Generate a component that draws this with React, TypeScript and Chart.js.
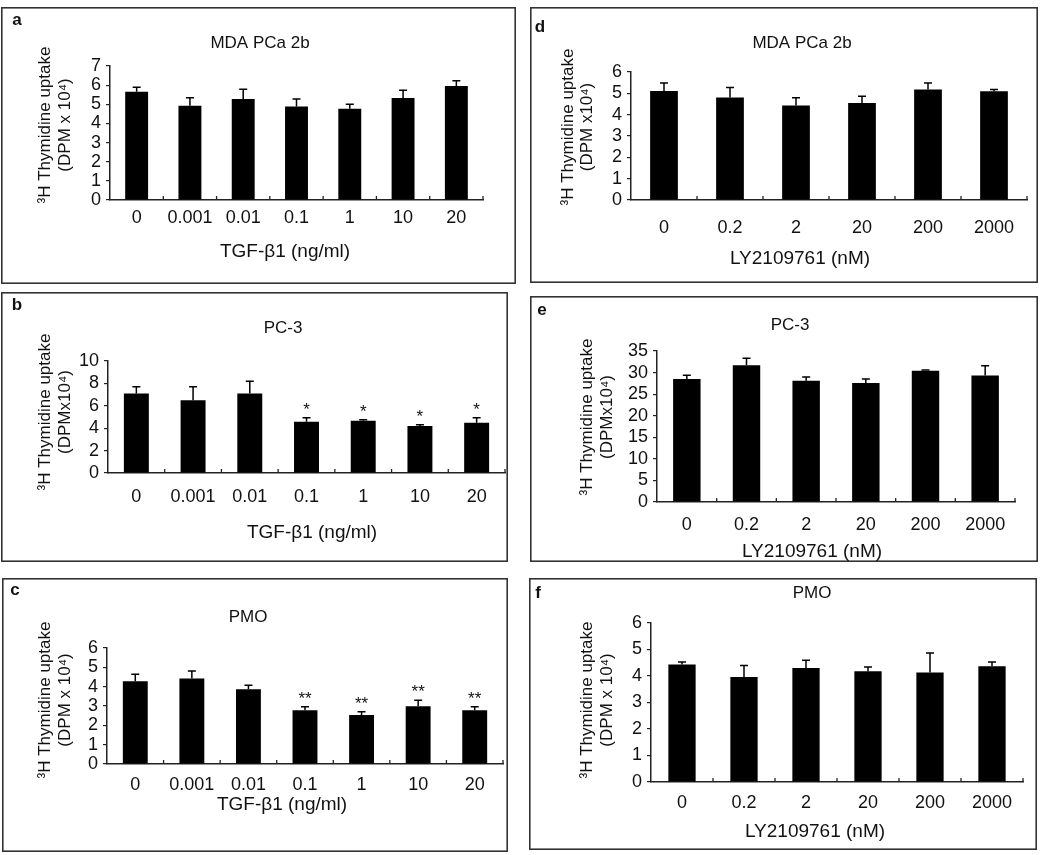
import React, { useEffect, useRef } from "react";
import { Chart, registerables } from "chart.js";

Chart.register(...registerables);

const FONT = '"Liberation Sans", Arial, Helvetica, sans-serif';

// ---------- data ----------
const tgfDoses = ["0", "0.001", "0.01", "0.1", "1", "10", "20"];
const lyDoses = ["0", "0.2", "2", "20", "200", "2000"];

const mdaTgfMean = [5.66, 4.93, 5.28, 4.88, 4.77, 5.33, 5.96];
const mdaTgfErr = [0.23, 0.41, 0.5, 0.4, 0.23, 0.4, 0.27];

const pc3TgfMean = [7.1, 6.5, 7.1, 4.57, 4.66, 4.2, 4.48];
const pc3TgfErr = [0.6, 1.2, 1.1, 0.36, 0.09, 0.1, 0.45];
const pc3TgfSig = ["", "", "", "*", "*", "*", "*"];

const pmoTgfMean = [4.28, 4.42, 3.87, 2.78, 2.53, 2.99, 2.78];
const pmoTgfErr = [0.36, 0.39, 0.2, 0.18, 0.17, 0.31, 0.18];
const pmoTgfSig = ["", "", "", "**", "**", "**", "**"];

const mdaLyMean = [5.11, 4.8, 4.43, 4.55, 5.18, 5.1];
const mdaLyErr = [0.38, 0.47, 0.36, 0.31, 0.31, 0.08];

const pc3LyMean = [28.5, 31.7, 28.1, 27.6, 30.4, 29.3];
const pc3LyErr = [0.9, 1.6, 0.9, 0.9, 0.2, 2.3];

const pmoLyMean = [4.43, 3.96, 4.3, 4.18, 4.13, 4.37];
const pmoLyErr = [0.1, 0.44, 0.29, 0.16, 0.74, 0.16];

const yTitleLine1 = "³H Thymidine uptake";
const tgfTitle = "TGF-β1 (ng/ml)";
const lyTitle = "LY2109761 (nM)";

// ---------- layout ----------
type Panel = {
  letter: string;
  title: string;
  labels: string[];
  mean: number[];
  err: number[];
  sig: string[] | null;
  yMax: number;
  yStep: number;
  yTitle2: string;
  xTitle: string;
  bar: number;
  box: { x: number; y: number; w: number; h: number };
  area: { l: number; t: number; r: number; b: number };
  titlePos: [number, number];
  letterPos: [number, number];
  xLabelY: number;
  xTitlePos: [number, number];
  yTitlePos: [number, number, number];
};

const panels: Panel[] = [
  {
    letter: "a", title: "MDA PCa 2b", labels: tgfDoses, mean: mdaTgfMean, err: mdaTgfErr, sig: null,
    yMax: 7, yStep: 1, yTitle2: "(DPM x 10⁴)", xTitle: tgfTitle, bar: 0.43,
    box: { x: 1, y: 7, w: 515, h: 277 }, area: { l: 110, t: 66, r: 483, b: 200 },
    titlePos: [260, 43], letterPos: [17, 20], xLabelY: 218, xTitlePos: [285, 252], yTitlePos: [45, 65, 125],
  },
  {
    letter: "d", title: "MDA PCa 2b", labels: lyDoses, mean: mdaLyMean, err: mdaLyErr, sig: null,
    yMax: 6, yStep: 1, yTitle2: "(DPM x10⁴)", xTitle: lyTitle, bar: 0.42,
    box: { x: 530, y: 7, w: 508, h: 276 }, area: { l: 631, t: 72, r: 1027, b: 200 },
    titlePos: [802, 43], letterPos: [540, 27], xLabelY: 228, xTitlePos: [800, 259], yTitlePos: [568, 587, 127],
  },
  {
    letter: "b", title: "PC-3", labels: tgfDoses, mean: pc3TgfMean, err: pc3TgfErr, sig: pc3TgfSig,
    yMax: 10, yStep: 2, yTitle2: "(DPMx10⁴)", xTitle: tgfTitle, bar: 0.44,
    box: { x: 1, y: 292, w: 507, h: 270 }, area: { l: 108, t: 361, r: 505, b: 473 },
    titlePos: [283, 328], letterPos: [17, 305], xLabelY: 497, xTitlePos: [312, 533], yTitlePos: [45, 65, 412],
  },
  {
    letter: "e", title: "PC-3", labels: lyDoses, mean: pc3LyMean, err: pc3LyErr, sig: null,
    yMax: 35, yStep: 5, yTitle2: "(DPMx10⁴)", xTitle: lyTitle, bar: 0.46,
    box: { x: 530, y: 296, w: 508, h: 266 }, area: { l: 657, t: 351, r: 1015, b: 502 },
    titlePos: [790, 325], letterPos: [542, 310], xLabelY: 525, xTitlePos: [812, 552], yTitlePos: [587, 607, 417],
  },
  {
    letter: "c", title: "PMO", labels: tgfDoses, mean: pmoTgfMean, err: pmoTgfErr, sig: pmoTgfSig,
    yMax: 6, yStep: 1, yTitle2: "(DPM x 10⁴)", xTitle: tgfTitle, bar: 0.44,
    box: { x: 2, y: 578, w: 506, h: 274 }, area: { l: 107, t: 648, r: 503, b: 764 },
    titlePos: [248, 617], letterPos: [15, 590], xLabelY: 785, xTitlePos: [282, 805], yTitlePos: [45, 65, 700],
  },
  {
    letter: "f", title: "PMO", labels: lyDoses, mean: pmoLyMean, err: pmoLyErr, sig: null,
    yMax: 6, yStep: 1, yTitle2: "(DPM x 10⁴)", xTitle: lyTitle, bar: 0.44,
    box: { x: 529, y: 578, w: 508, h: 272 }, area: { l: 651, t: 623, r: 1023, b: 782 },
    titlePos: [812, 593], letterPos: [538, 593], xLabelY: 803, xTitlePos: [815, 832], yTitlePos: [587, 607, 700],
  },
];

const INK = "#111";
const AXIS = "#222";
const TICK_SIZE = 18;

function PanelChart({ p }: { p: Panel }) {
  const ref = useRef<HTMLCanvasElement>(null);

  useEffect(() => {
    const canvas = ref.current!;
    const W = p.box.w;
    const H = p.box.h;
    const Wy = 44;
    const Hx = 34;
    const pad = {
      left: p.area.l - p.box.x - Wy,
      top: p.area.t - p.box.y,
      right: p.box.x + W - p.area.r,
      bottom: p.box.y + H - p.area.b - Hx,
    };
    const ox = p.box.x;
    const oy = p.box.y;

    const overlay = {
      id: "overlay",
      afterDatasetsDraw(chart: any) {
        const ctx = chart.ctx as CanvasRenderingContext2D;
        const xs = chart.scales.x;
        const ys = chart.scales.y;
        const ca = chart.chartArea;
        ctx.save();
        // x-axis inward tick marks at category boundaries
        ctx.strokeStyle = AXIS;
        ctx.lineWidth = 1.3;
        const n = p.labels.length;
        for (let i = 1; i <= n; i++) {
          const x = ca.left + (i * (ca.right - ca.left)) / n;
          ctx.beginPath();
          ctx.moveTo(x, ca.bottom);
          ctx.lineTo(x, ca.bottom - 4);
          ctx.stroke();
        }
        // error bars
        ctx.strokeStyle = "#000";
        ctx.lineWidth = 1.5;
        p.mean.forEach((m, i) => {
          const x = xs.getPixelForValue(i);
          const yb = ys.getPixelForValue(m);
          const yt = ys.getPixelForValue(m + p.err[i]);
          ctx.beginPath();
          ctx.moveTo(x, yb);
          ctx.lineTo(x, yt);
          ctx.moveTo(x - 4, yt);
          ctx.lineTo(x + 4, yt);
          ctx.stroke();
          if (p.sig && p.sig[i]) {
            ctx.fillStyle = INK;
            ctx.font = `17px ${FONT}`;
            ctx.textAlign = "center";
            ctx.textBaseline = "alphabetic";
            ctx.fillText(p.sig[i], x, yt - 3);
          }
        });
        ctx.restore();
      },
      afterDraw(chart: any) {
        const ctx = chart.ctx as CanvasRenderingContext2D;
        ctx.save();
        // panel frame
        ctx.strokeStyle = "#333";
        ctx.lineWidth = 1.6;
        ctx.strokeRect(0.8, 0.8, W - 1.6, H - 1.6);
        ctx.fillStyle = INK;
        ctx.textAlign = "center";
        ctx.textBaseline = "middle";
        // letter
        ctx.font = `bold 17px ${FONT}`;
        ctx.fillText(p.letter, p.letterPos[0] - ox, p.letterPos[1] - oy);
        // title
        ctx.font = `17px ${FONT}`;
        ctx.fillText(p.title, p.titlePos[0] - ox, p.titlePos[1] - oy);
        // x title
        ctx.font = `19px ${FONT}`;
        ctx.fillText(p.xTitle, p.xTitlePos[0] - ox, p.xTitlePos[1] - oy);
        // y title (two rotated lines)
        ctx.font = `17px ${FONT}`;
        const lines = [yTitleLine1, p.yTitle2];
        lines.forEach((t, k) => {
          ctx.save();
          ctx.translate(p.yTitlePos[k] - ox, p.yTitlePos[2] - oy);
          ctx.rotate(-Math.PI / 2);
          ctx.fillText(t, 0, 0);
          ctx.restore();
        });
        ctx.restore();
      },
    };

    const chart = new Chart(canvas, {
      type: "bar",
      data: {
        labels: p.labels,
        datasets: [
          {
            data: p.mean,
            backgroundColor: "#000",
            borderWidth: 0,
            barPercentage: p.bar,
            categoryPercentage: 1,
          },
        ],
      },
      options: {
        animation: false,
        responsive: false,
        devicePixelRatio: 1,
        layout: { padding: pad },
        plugins: { legend: { display: false }, tooltip: { enabled: false }, title: { display: false } },
        scales: {
          x: {
            grid: { display: false, drawTicks: false },
            border: { display: true, color: AXIS, width: 1.5 },
            ticks: {
              font: { family: FONT, size: TICK_SIZE },
              color: INK,
              padding: p.xLabelY - p.area.b - 11,
              maxRotation: 0,
              autoSkip: false,
            },
            afterFit(s: any) {
              s.height = Hx;
              s.paddingLeft = 0;
              s.paddingRight = 0;
            },
          },
          y: {
            min: 0,
            max: p.yMax,
            ticks: {
              stepSize: p.yStep,
              autoSkip: false,
              font: { family: FONT, size: TICK_SIZE },
              color: INK,
              padding: 5,
            },
            grid: { drawOnChartArea: false, drawTicks: true, tickLength: 4, color: AXIS, lineWidth: 1.2 },
            border: { display: true, color: AXIS, width: 1.5 },
            afterFit(s: any) {
              s.width = Wy;
              s.paddingTop = 0;
              s.paddingBottom = 0;
            },
          },
        },
      } as any,
      plugins: [overlay],
    });
    return () => chart.destroy();
  }, [p]);

  return (
    <canvas
      ref={ref}
      width={p.box.w}
      height={p.box.h}
      style={{ position: "absolute", left: p.box.x, top: p.box.y, width: p.box.w, height: p.box.h }}
    />
  );
}

export default function App() {
  return (
    <div style={{ position: "absolute", left: 0, top: 0, width: 1050, height: 855, background: "#fff" }}>
      {panels.map((p) => (
        <PanelChart key={p.letter} p={p} />
      ))}
    </div>
  );
}
